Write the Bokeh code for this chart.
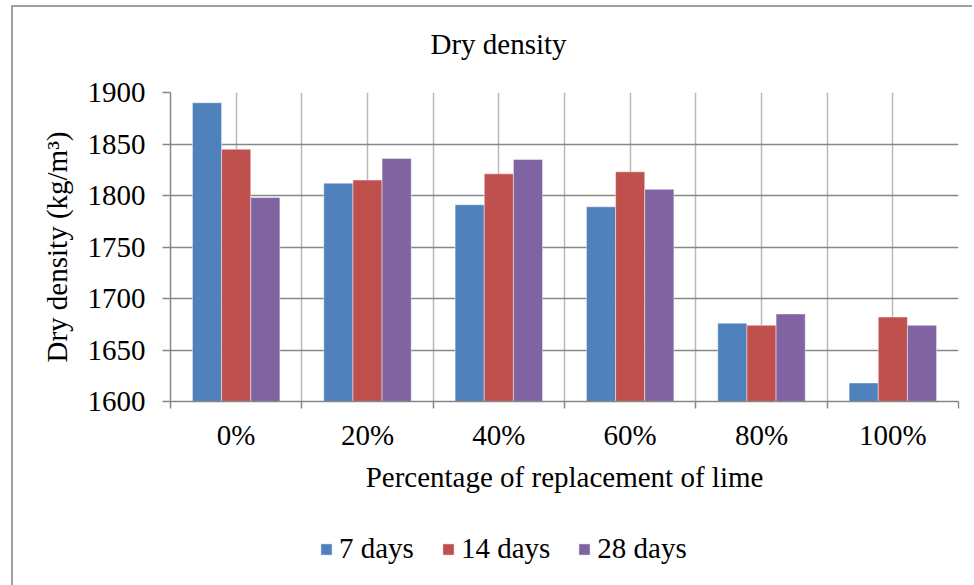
from bokeh.plotting import figure
from bokeh.layouts import column
from bokeh.models import (FixedTicker, Legend, LegendItem, Range1d, ColumnDataSource, Label)
from bokeh.embed import file_html
from bokeh.resources import INLINE

# ---- data ----
categories = ["0%", "20%", "40%", "60%", "80%", "100%"]
series_names = ["7 days", "14 days", "28 days"]
days7 = [1890, 1812, 1791, 1789, 1676, 1618]
days14 = [1845, 1815, 1821, 1823, 1674, 1682]
days28 = [1798, 1836, 1835, 1806, 1685, 1674]
y_ticks = [1600, 1650, 1700, 1750, 1800, 1850, 1900]
colors = ["#4F81BD", "#C0504D", "#8064A2"]
title_text = "Dry density"
x_label = "Percentage of replacement of lime"
y_label = "Dry density (kg/m\u00b3)"

FONT = "Liberation Serif"
FS = "29px"
BORDER = "2px solid #A0A0A0"
FRAME_W = 788

# ---- title strip (height includes its 2px top border) ----
tf = figure(width=961, height=67, output_backend="svg", toolbar_location=None,
            title=None, x_range=Range1d(0, FRAME_W), y_range=Range1d(0, 65),
            x_axis_location=None, y_axis_location=None,
            min_border=0, min_border_left=0, min_border_right=0,
            min_border_top=0, min_border_bottom=0)
tf.margin = (5, 0, 0, 11)
tf.styles = {"border-left": BORDER, "border-top": BORDER}
tf.grid.visible = False
tf.outline_line_color = None
tf.background_fill_color = "white"
tf.border_fill_color = "white"
tf.add_layout(Label(x=260, y=30, text=title_text, text_font=FONT, text_font_size=FS,
                    text_align="left", text_baseline="alphabetic", text_color="black"))

# ---- main chart ----
p = figure(width=961, height=448, output_backend="svg", toolbar_location=None,
           title=None,
           x_range=Range1d(0, len(categories)), y_range=Range1d(y_ticks[0], y_ticks[-1]),
           min_border_left=157, min_border_right=16, min_border_top=20,
           min_border_bottom=119)
p.margin = (0, 0, 0, 11)
p.styles = {"border-left": BORDER}
p.background_fill_color = "white"
p.border_fill_color = "white"
p.outline_line_color = None

bar_w = 0.222
series = [days7, days14, days28]
for j, (vals, col) in enumerate(zip(series, colors)):
    xs = [i + 0.5 + (j - 1) * bar_w for i in range(len(categories))]
    src = ColumnDataSource(dict(x=xs, top=vals))
    p.vbar(x="x", top="top", bottom=y_ticks[0], width=bar_w, source=src,
           fill_color=col, line_color="white", line_alpha=0.45, line_width=1)

# grids
p.xgrid.ticker = FixedTicker(ticks=[k * 0.5 for k in range(2 * len(categories) + 1)])
p.xgrid.grid_line_color = "#B8B8B8"
p.xgrid.grid_line_width = 1.5
p.ygrid.ticker = FixedTicker(ticks=y_ticks)
p.ygrid.grid_line_color = "#878787"
p.ygrid.grid_line_width = 1.5
for g in (p.xgrid, p.ygrid):
    g.level = "underlay"

# x axis
xa = p.xaxis[0]
xa.ticker = FixedTicker(ticks=[i + 0.5 for i in range(len(categories))],
                        minor_ticks=list(range(len(categories) + 1)))
xa.major_label_overrides = {i + 0.5: c for i, c in enumerate(categories)}
xa.major_tick_line_color = None
xa.major_tick_out = 7
xa.major_tick_in = 0
xa.minor_tick_line_color = "#878787"
xa.minor_tick_line_width = 1.5
xa.minor_tick_out = 7
xa.minor_tick_in = 0
xa.axis_line_color = "#878787"
xa.axis_line_width = 1.5
xa.major_label_standoff = 10
xa.axis_label = x_label
xa.axis_label_standoff = 7

# y axis
ya = p.yaxis[0]
ya.ticker = FixedTicker(ticks=y_ticks)
ya.major_tick_line_color = "#878787"
ya.major_tick_line_width = 1.5
ya.major_tick_out = 8
ya.major_tick_in = 0
ya.minor_tick_line_color = None
ya.axis_line_color = "#878787"
ya.axis_line_width = 1.5
ya.major_label_standoff = 17
ya.axis_label = y_label
ya.axis_label_standoff = 12

for ax in (xa, ya):
    ax.major_label_text_font = FONT
    ax.major_label_text_font_size = FS
    ax.major_label_text_color = "black"
    ax.axis_label_text_font = FONT
    ax.axis_label_text_font_size = FS
    ax.axis_label_text_font_style = "normal"
    ax.axis_label_text_color = "black"

# ---- legend strip ----
lf = figure(width=961, height=65, output_backend="svg", toolbar_location=None,
            title=None, x_range=Range1d(0, 1), y_range=Range1d(0, 1),
            x_axis_location=None, y_axis_location=None,
            min_border=0, min_border_left=0, min_border_right=0,
            min_border_top=0, min_border_bottom=0)
lf.margin = (0, 0, 0, 11)
lf.styles = {"border-left": BORDER}
lf.grid.visible = False
lf.outline_line_color = None
lf.background_fill_color = "white"
lf.border_fill_color = "white"
items = []
for name, col in zip(series_names, colors):
    # undrawn proxy (NaN) bar: only its legend swatch is seen
    r = lf.vbar(x=[float("nan")], top=[float("nan")], bottom=0, width=0.1,
                fill_color=col, line_color="white", line_alpha=0.45)
    items.append(LegendItem(label=name, renderers=[r]))
legend = Legend(items=items, orientation="horizontal", location=(149, 20),
                glyph_width=14, glyph_height=14, label_standoff=6, spacing=27,
                padding=0, margin=0, border_line_color=None, background_fill_alpha=0,
                label_text_font=FONT, label_text_font_size=FS, label_text_color="black")
lf.add_layout(legend)

layout = column(tf, p, lf, spacing=0)
open("out.html", "w").write(file_html(layout, INLINE))
